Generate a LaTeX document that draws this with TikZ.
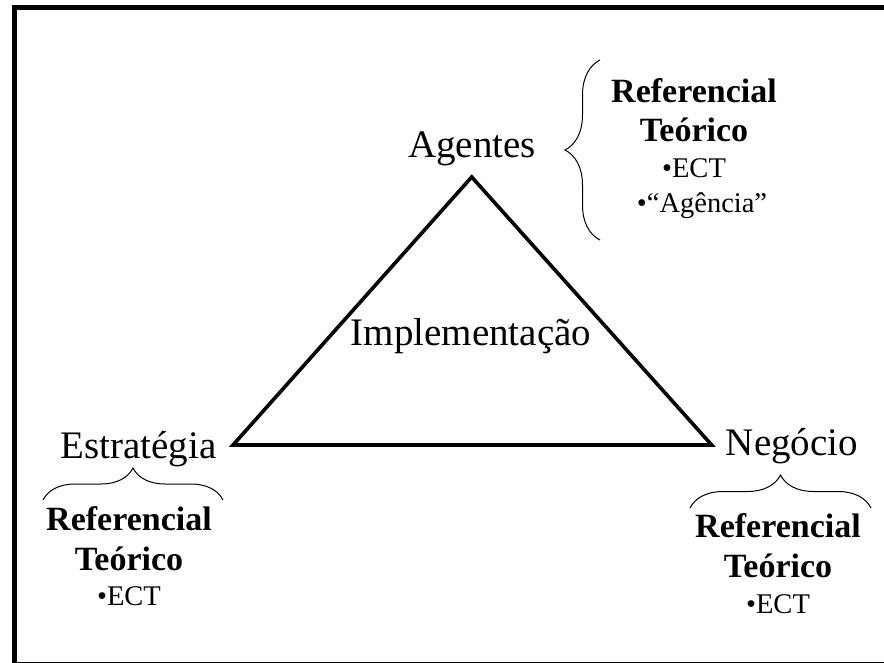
\documentclass[tikz,border=0pt]{standalone}
\usepackage{fontspec}
\setmainfont{Liberation Serif}
\usetikzlibrary{decorations.pathreplacing}

\tikzset{
  vertexlabel/.style={anchor=base, inner sep=0pt, font=\fontsize{39}{40}\selectfont},
  reftitle/.style={anchor=base, inner sep=0pt, font=\fontsize{34}{36}\selectfont\bfseries},
  refitem/.style={anchor=base, inner sep=0pt, font=\fontsize{28.5}{30}\selectfont},
  refbrace/.style={draw, line width=1pt, decorate, decoration={brace, amplitude=#1}},
  frame/.style={draw, line width=5pt},
  sides/.style={draw, line width=3.6pt, line join=miter}
}

\begin{document}
\begin{tikzpicture}[x=1pt, y=-1pt]
  % page area
  \clip (0,0) rectangle (884,663);
  \fill[white] (0,0) rectangle (884,663);

  % outer frame, running past the right and bottom edges
  \path[frame] (14.3,7.5) rectangle (900,664.6);

  % triangle corners
  \coordinate (top) at (471.7,177);
  \coordinate (left) at (233,445);
  \coordinate (right) at (711.7,445);
  \path[sides] (top) -- (right) -- (left) -- cycle;

  % vertex and centre labels
  \node[vertexlabel] (agentes) at (472,158) {Agentes};
  \node[vertexlabel] (estrategia) at (138.5,458) {Estratégia};
  \node[vertexlabel] (negocio) at (792,455) {Negócio};
  \node[vertexlabel] (impl) at (471,345) {Implementação};

  % theory block beside Agentes
  \node[reftitle] (refA1) at (694,103) {Referencial};
  \node[reftitle] (refA2) at (694,142) {Teórico};
  \node[refitem] (refA3) at (694,178) {•ECT};
  \node[refitem] (refA4) at (702,213) {•“Agência”};
  \coordinate (bA1) at (600,240);
  \coordinate (bA2) at (600,60);
  \path[refbrace=35] (bA1) -- (bA2);

  % theory block under Estratégia
  \coordinate (bE1) at (43,500);
  \coordinate (bE2) at (223,500);
  \path[refbrace=32] (bE1) -- (bE2);
  \node[reftitle] (refE1) at (129,530) {Referencial};
  \node[reftitle] (refE2) at (129,570) {Teórico};
  \node[refitem] (refE3) at (129,605) {•ECT};

  % theory block under Negócio
  \coordinate (bN1) at (690,508);
  \coordinate (bN2) at (871,508);
  \path[refbrace=33] (bN1) -- (bN2);
  \node[reftitle] (refN1) at (778,537) {Referencial};
  \node[reftitle] (refN2) at (778,577) {Teórico};
  \node[refitem] (refN3) at (778,613) {•ECT};
\end{tikzpicture}
\end{document}
